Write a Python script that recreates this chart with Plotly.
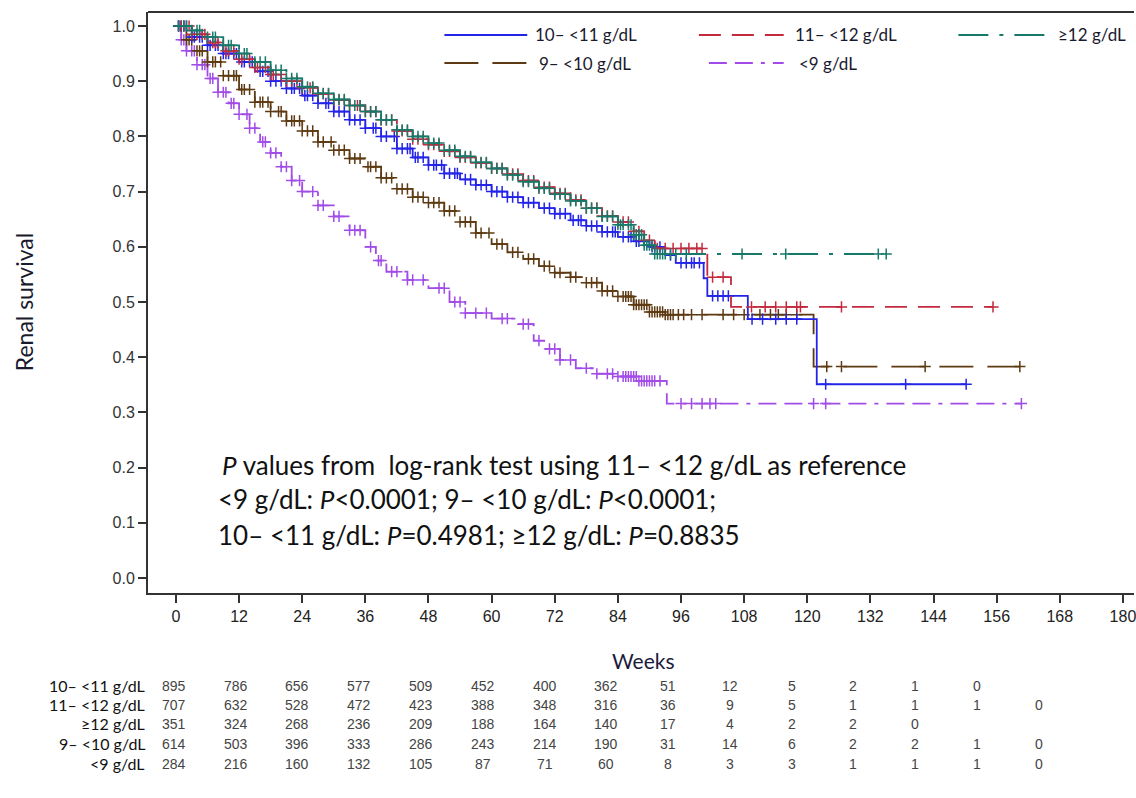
import numpy as np
import plotly.graph_objects as go

# ---------------- data ----------------
groups = ["10\u2013 <11 g/dL", "11\u2013 <12 g/dL", "\u226512 g/dL", "9\u2013 <10 g/dL", "<9 g/dL"]

blue_t = [0, 3, 6, 9, 12, 15, 18, 21, 24, 27, 30, 33, 36, 39, 42, 45, 48, 51, 54, 57, 60, 63, 66, 69, 72,
          75, 78, 81, 84, 87, 90, 93, 95, 100.3, 101, 108.7, 121.8]
blue_s = [1.0, 0.98, 0.965, 0.95, 0.935, 0.918, 0.90, 0.887, 0.874, 0.86, 0.845, 0.83, 0.815, 0.80, 0.778,
          0.762, 0.748, 0.733, 0.722, 0.712, 0.70, 0.69, 0.68, 0.67, 0.66, 0.648, 0.638, 0.627, 0.618, 0.61,
          0.60, 0.585, 0.571, 0.543, 0.511, 0.469, 0.351]
blue_end = 150.2
blue_cens = [0.5, 1, 1.5, 2, 3, 3.5, 4.5, 5, 6, 6.5, 7.5, 8, 9, 9.5, 10, 11, 11.5, 12.5, 13, 14, 14.5, 16,
             16.5, 17.5, 18, 19, 20, 21, 22, 22.5, 23.5, 24.5, 25, 26, 27, 28.5, 29, 30, 31, 32, 33, 34, 35,
             36, 37.5, 38, 39, 40, 41.5, 42, 43, 44, 44.5, 45.5, 46, 47, 48, 49, 49.5, 50.5, 51, 52, 53,
             53.5, 55, 56, 57, 58, 59, 60, 61, 62, 63, 64, 65, 66, 67, 68, 70, 71, 72, 73, 74, 75.5, 76.5,
             77, 78, 79, 80, 81, 82, 83, 83.5, 85, 86, 86.5, 87.5, 88, 89, 90.5, 91, 92, 94, 96, 97, 98,
             98.5, 99.5, 102, 103, 104, 105, 109.5, 111.5, 114, 116, 118, 123.5, 138.7, 150.2]

red_t = [0, 3, 6, 9, 12, 15, 18, 21, 24, 27, 30, 33, 36, 39, 42, 45, 48, 51, 54, 57, 60, 63, 66, 69, 72,
         75, 78, 81, 84, 87, 89, 91, 101, 105.5]
red_s = [1.0, 0.985, 0.97, 0.955, 0.94, 0.925, 0.912, 0.90, 0.888, 0.877, 0.866, 0.856, 0.845, 0.83, 0.81,
         0.795, 0.785, 0.773, 0.762, 0.752, 0.742, 0.732, 0.72, 0.708, 0.697, 0.685, 0.67, 0.656, 0.645,
         0.628, 0.612, 0.597, 0.545, 0.491]
red_end = 155.3
red_cens = [1, 1.5, 2.5, 3, 4, 5, 5.5, 7, 7.5, 8, 9.5, 10, 11, 12, 12.5, 14, 15, 15.5, 17, 18, 18.5, 20,
            21, 22, 23, 24, 25.5, 26, 27, 28, 29, 30, 31, 32, 33, 34.5, 35, 36, 37, 38, 39, 40, 41, 42, 43,
            44, 45, 46, 47, 48, 49, 50, 51, 52, 53, 54, 55, 56, 57, 58, 59, 60, 61, 62, 63, 64, 65, 66, 67,
            68, 69, 70, 71, 72, 73, 74, 75, 76, 77, 78, 79, 80, 81, 82, 83, 84, 85, 86, 87, 88, 89, 90,
            91.5, 93, 94.5, 96, 97.5, 99, 100, 102, 104, 109.4, 112, 114, 116, 118, 118.7, 126.5, 155.3]

green_t = [0, 3, 6, 9, 12, 15, 18, 21, 24, 27, 30, 33, 36, 39, 42, 45, 48, 51, 54, 57, 60, 63, 66, 69, 72,
           75, 78, 81, 84, 87, 89, 91]
green_s = [1.0, 0.992, 0.98, 0.965, 0.95, 0.935, 0.92, 0.905, 0.89, 0.878, 0.867, 0.856, 0.845, 0.83, 0.812,
           0.80, 0.788, 0.775, 0.764, 0.753, 0.742, 0.73, 0.718, 0.706, 0.695, 0.683, 0.67, 0.655, 0.64,
           0.622, 0.603, 0.587]
green_end = 135.0
green_cens = [0.5, 1.5, 2, 3, 4, 4.5, 6, 7, 7.5, 9, 10, 10.5, 12, 13, 13.5, 15, 16, 17, 18, 19, 20, 21,
              22, 23, 24, 25, 26, 27, 28, 29, 30, 31, 32, 33, 34, 35, 36, 37, 38, 39, 40, 41, 42, 43, 44,
              45, 46, 47, 48, 49, 50, 51, 52, 53, 54, 55, 56, 57, 58, 59, 60, 61, 62, 63, 64, 65, 66, 67,
              68, 69, 70, 71, 72, 73, 74, 75, 76, 77, 78, 79, 80, 81, 82, 83, 84, 84.5, 85, 86, 86.5, 87,
              87.5, 88, 88.5, 89, 89.5, 90, 90.5, 91, 91.5, 92, 92.5, 93, 94, 95, 97, 107.6, 115.9, 133.5,
              135]

brown_t = [0, 2, 4, 6, 9, 12, 15, 18, 21, 24, 27, 30, 33, 36, 39, 42, 45, 48, 51, 54, 57, 60, 63, 66, 69,
           72, 75, 78, 81, 84, 87, 90, 93, 121.2]
brown_s = [1.0, 0.975, 0.955, 0.935, 0.91, 0.885, 0.862, 0.845, 0.828, 0.81, 0.79, 0.775, 0.76, 0.745, 0.725,
           0.705, 0.69, 0.68, 0.665, 0.645, 0.625, 0.605, 0.59, 0.578, 0.565, 0.553, 0.545, 0.535, 0.52,
           0.51, 0.495, 0.482, 0.477, 0.383]
brown_end = 160.4
brown_cens = [0.5, 1, 2, 2.5, 3, 4, 4.5, 5, 6, 7, 7.5, 8.5, 9, 10, 11, 11.5, 12.5, 13, 14, 15, 16, 16.5,
              17.5, 18, 19.5, 20, 21, 22, 22.5, 23.5, 24, 25, 26, 27, 28, 29.5, 30, 31, 32, 33, 34, 35,
              36.5, 37, 38, 39, 40, 41, 42, 43, 44, 45, 46, 47, 48, 49, 50, 51, 52, 53, 54, 55, 56, 57,
              58, 59.5, 61, 62, 64, 65, 67, 68, 70, 71, 72, 73, 75, 76, 78, 79, 80, 81, 82, 83, 84, 85,
              85.5, 86, 86.5, 87, 87.5, 88, 88.5, 89, 89.5, 90, 90.5, 91, 91.5, 92, 92.5, 93, 93.5, 94,
              94.5, 95.5, 96.5, 98, 100, 104, 106, 108, 111, 113, 114.5, 116, 118, 123.7, 126.5, 142.4,
              160.4]

purple_t = [0, 1, 2, 4, 6, 8, 10, 12, 14, 16, 18, 20, 22, 24, 27, 30, 33, 36, 38, 40, 44, 48, 52, 55, 60,
            65, 68, 70, 73, 76, 80, 84, 88, 93.3]
purple_s = [1.0, 0.975, 0.955, 0.93, 0.905, 0.88, 0.86, 0.84, 0.815, 0.79, 0.77, 0.745, 0.72, 0.70, 0.675,
            0.655, 0.63, 0.60, 0.575, 0.555, 0.54, 0.525, 0.50, 0.48, 0.47, 0.46, 0.43, 0.415, 0.395, 0.38,
            0.37, 0.365, 0.357, 0.316]
purple_end = 160.7
purple_cens = [0.5, 1, 1.5, 2, 3, 3.5, 4, 5, 5.5, 6.5, 7, 8, 9, 9.5, 10.5, 11, 12, 13.5, 14, 15, 16.5, 17,
               18, 19, 20, 21, 22, 23.5, 24, 26, 27, 28, 30, 31, 33, 34, 35, 37, 38.5, 39, 41, 42, 44, 45,
               47, 50, 51, 53, 54, 55, 57, 59, 62, 63, 66, 67, 69, 71, 72, 73, 75, 78, 80, 82, 83, 84, 85,
               85.5, 86, 86.5, 87, 87.5, 88, 88.5, 89, 89.5, 90, 90.5, 91, 92, 96, 98, 100, 101.5, 102.6,
               121.2, 123.5, 160.7]

# number at risk
risk_weeks = [0, 12, 24, 36, 48, 60, 72, 84, 96, 108, 120, 132, 144, 156, 168]
risk_blue = [895, 786, 656, 577, 509, 452, 400, 362, 51, 12, 5, 2, 1, 0]
risk_red = [707, 632, 528, 472, 423, 388, 348, 316, 36, 9, 5, 1, 1, 1, 0]
risk_green = [351, 324, 268, 236, 209, 188, 164, 140, 17, 4, 2, 2, 0]
risk_brown = [614, 503, 396, 333, 286, 243, 214, 190, 31, 14, 6, 2, 2, 1, 0]
risk_purple = [284, 216, 160, 132, 105, 87, 71, 60, 8, 3, 3, 1, 1, 1, 0]

x_ticks = [0, 12, 24, 36, 48, 60, 72, 84, 96, 108, 120, 132, 144, 156, 168, 180]
y_ticks = [0.0, 0.1, 0.2, 0.3, 0.4, 0.5, 0.6, 0.7, 0.8, 0.9, 1.0]

# ---------------- styles ----------------
colors = ["#2424E8", "#C42A3E", "#17796A", "#5E3A12", "#A24CE8"]
dashes = ["solid", "22px,11px", "30px,11px,4px,11px", "34px,14px", "18px,8px,18px,8px,4px,8px"]

series = [
    (blue_t, blue_s, blue_end, blue_cens),
    (red_t, red_s, red_end, red_cens),
    (green_t, green_s, green_end, green_cens),
    (brown_t, brown_s, brown_end, brown_cens),
    (purple_t, purple_s, purple_end, purple_cens),
]

W, H = 1136, 798
ML, MR, MT, MB = 148, 0, 12, 205
PW, PH = W - ML - MR, H - MT - MB
XR = [-5.31, 182.1]
YR = [-0.0272, 1.0254]

FONT_C = "Lato, 'Open Sans', sans-serif"
FONT_A = "'Liberation Sans', Arial, sans-serif"
FONT_N = "'Liberation Sans Narrow', 'Arial Narrow', 'Liberation Sans', sans-serif"

fig = go.Figure()

order = [4, 3, 0, 1, 2]
for i in order:
    t, s, end, cens = series[i]
    xs = list(t) + [end]
    ys = list(s) + [s[-1]]
    fig.add_trace(go.Scatter(x=xs, y=ys, mode="lines", line_shape="hv",
                             line=dict(color=colors[i], width=1.8, dash=dashes[i]),
                             showlegend=False, hoverinfo="skip"))
    ta = np.array(t, dtype=float)
    sa = np.array(s, dtype=float)
    ca = np.array(cens, dtype=float)
    idx = np.searchsorted(ta, ca, side="right") - 1
    cy = sa[np.clip(idx, 0, len(sa) - 1)]
    fig.add_trace(go.Scatter(x=ca, y=cy, mode="markers",
                             marker=dict(symbol="cross-thin", size=8,
                                         line=dict(color=colors[i], width=1.5)),
                             showlegend=False, hoverinfo="skip"))

annotations = []
shapes = []

shapes.append(dict(type="line", xref="paper", yref="paper", x0=0, x1=1, y0=1, y1=1,
                   line=dict(color="#333333", width=2)))


def px_to_paper_x(px):
    return (px - ML) / PW


def py_to_paper_y(py):
    return (H - MB - py) / PH


legend_items = [
    (0, 445, 528, 534, 35),
    (1, 700, 785, 794, 35),
    (2, 960, 1056, 1058, 35),
    (3, 445, 528, 538, 63),
    (4, 710, 785, 798, 63),
]
for gi, x0, x1, tx, ty in legend_items:
    shapes.append(dict(type="line", xref="paper", yref="paper",
                       x0=px_to_paper_x(x0), x1=px_to_paper_x(x1),
                       y0=py_to_paper_y(ty), y1=py_to_paper_y(ty),
                       line=dict(color=colors[gi], width=1.8, dash=dashes[gi])))
    annotations.append(dict(xref="paper", yref="paper", x=px_to_paper_x(tx), y=py_to_paper_y(ty),
                            text=groups[gi], showarrow=False, xanchor="left", yanchor="middle",
                            font=dict(family=FONT_C, size=17, color="#1a1a2e")))

ptext = [
    ("<i>P</i> values from  log-rank test using 11\u2013 <12 g/dL as reference", 465),
    ("<9 g/dL: <i>P</i><0.0001; 9\u2013 <10 g/dL: <i>P</i><0.0001;", 499),
    ("10\u2013 <11 g/dL: <i>P</i>=0.4981; \u226512 g/dL: <i>P</i>=0.8835", 535),
]
for k, (txt, py) in enumerate(ptext):
    annotations.append(dict(xref="paper", yref="paper", x=px_to_paper_x(220 if k == 0 else 216),
                            y=py_to_paper_y(py), text=txt, showarrow=False,
                            xanchor="left", yanchor="middle",
                            font=dict(family=FONT_C, size=26, color="#111111")))

annotations.append(dict(xref="paper", yref="paper", x=px_to_paper_x(645), y=py_to_paper_y(660),
                        text="Weeks", showarrow=False, xanchor="center", yanchor="middle",
                        font=dict(family=FONT_C, size=21, color="#1a1a3a")))
annotations.append(dict(xref="paper", yref="paper", x=px_to_paper_x(24), y=py_to_paper_y(302),
                        text="Renal survival", showarrow=False, textangle=-90,
                        xanchor="center", yanchor="middle",
                        font=dict(family=FONT_C, size=23, color="#1a1a2e")))

risk_rows = [risk_blue, risk_red, risk_green, risk_brown, risk_purple]
row_y = [686, 705, 724, 744, 764]
for gi, (vals, py) in enumerate(zip(risk_rows, row_y)):
    annotations.append(dict(xref="paper", yref="paper", x=px_to_paper_x(147), y=py_to_paper_y(py - 1),
                            text=groups[gi], showarrow=False, xanchor="right", yanchor="middle",
                            font=dict(family=FONT_C, size=16, color="#111111")))
    for j, v in enumerate(vals):
        px = 174 + 61.9 * j
        annotations.append(dict(xref="paper", yref="paper", x=px_to_paper_x(px), y=py_to_paper_y(py),
                                text=str(v), showarrow=False, xanchor="center", yanchor="middle",
                                font=dict(family=FONT_A, size=14, color="#444444")))

fig.update_layout(
    width=W, height=H,
    margin=dict(l=ML, r=MR, t=MT, b=MB, pad=0),
    paper_bgcolor="white", plot_bgcolor="white",
    showlegend=False,
    annotations=annotations,
    shapes=shapes,
    xaxis=dict(range=XR, tickvals=x_ticks, ticktext=[str(v) for v in x_ticks],
               showgrid=False, zeroline=False, showline=True, linecolor="#333333", linewidth=2,
               ticks="outside", ticklen=8, tickwidth=1.5, tickcolor="#333333",
               ticklabeloverflow="allow",
               tickfont=dict(family=FONT_N, size=16, color="#222222")),
    yaxis=dict(range=YR, tickvals=y_ticks, ticktext=[f"{v:.1f}" for v in y_ticks],
               showgrid=False, zeroline=False, showline=True, linecolor="#333333", linewidth=2,
               ticks="outside", ticklen=8, tickwidth=1.5, tickcolor="#333333",
               tickfont=dict(family=FONT_A, size=16, color="#333333")),
)

fig.write_html("out.html")
